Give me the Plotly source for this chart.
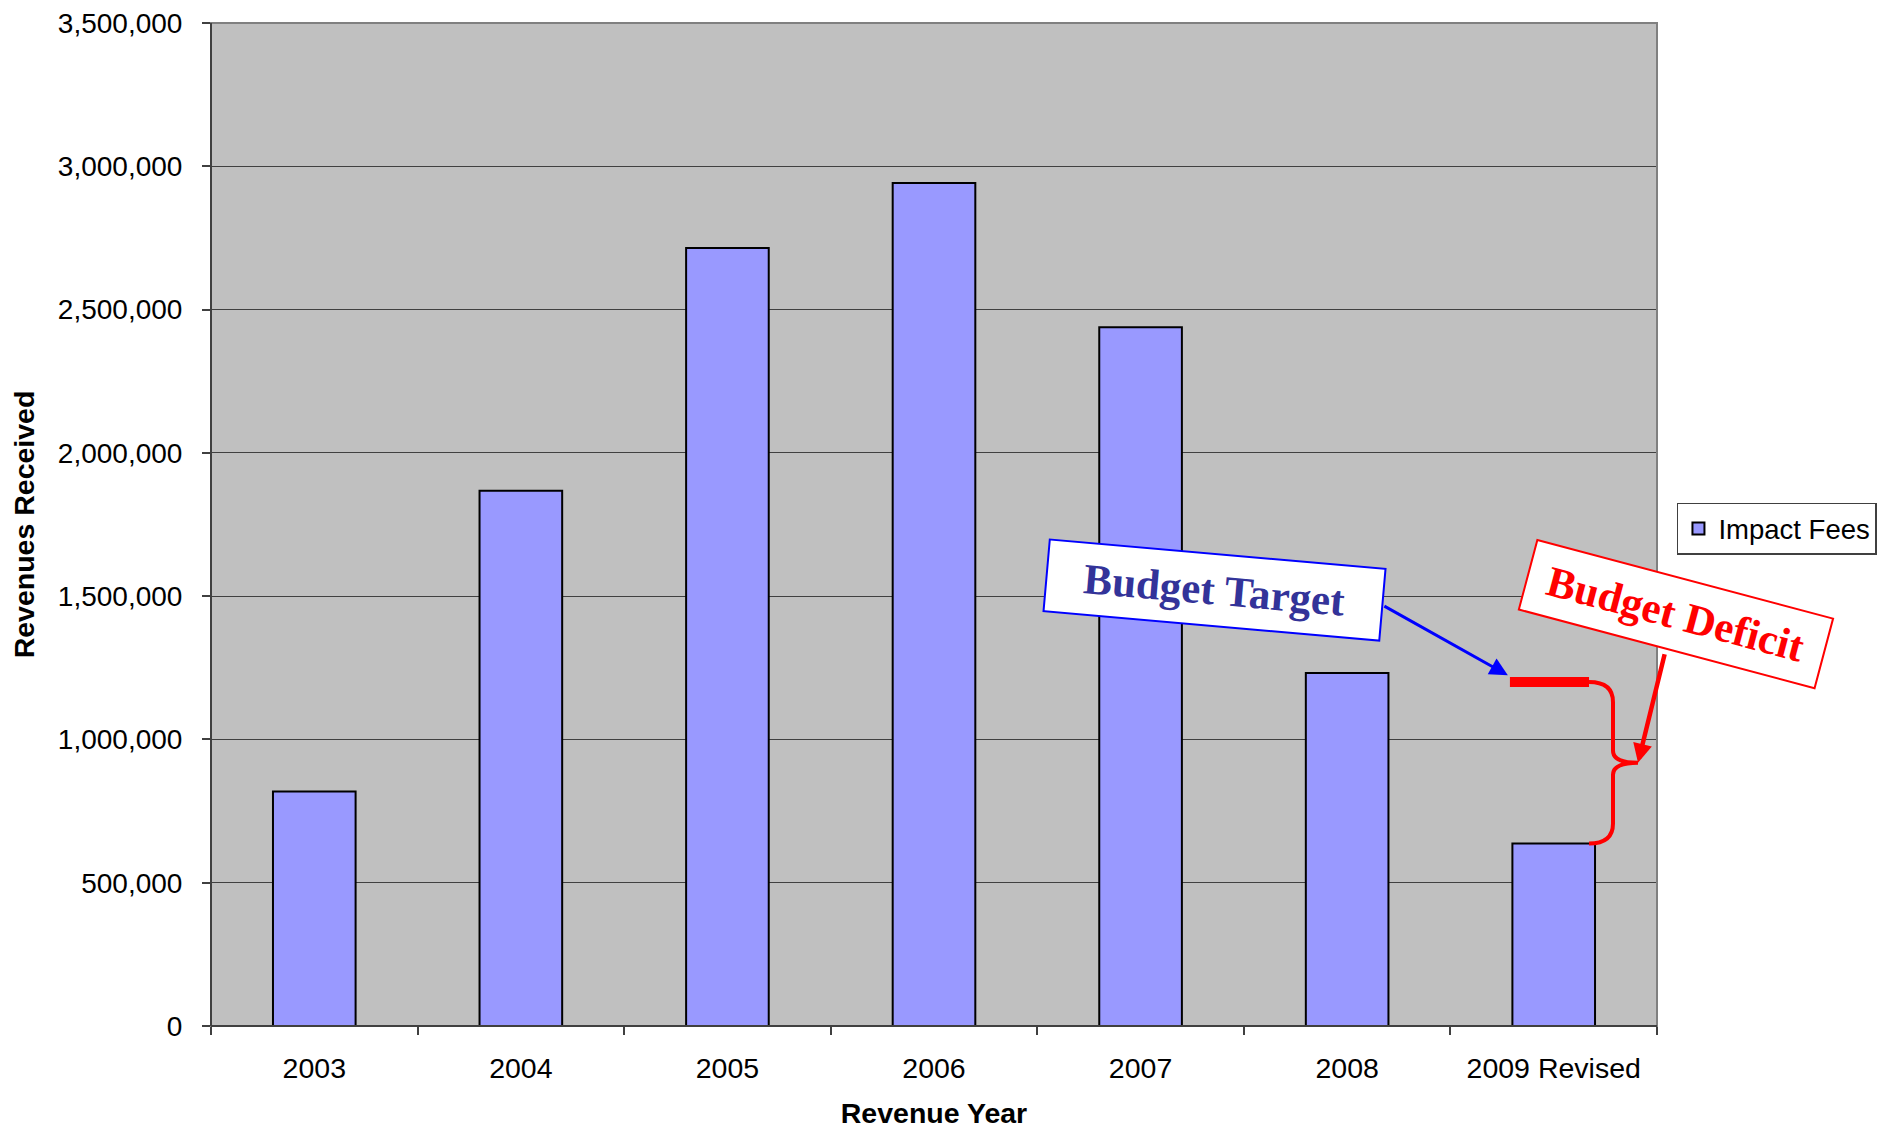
import plotly.graph_objects as go

# ---- data ----
years = ["2003", "2004", "2005", "2006", "2007", "2008", "2009 Revised"]
impact_fees = [818000, 1868000, 2715000, 2942000, 2438000, 1232000, 637000]
budget_target = 1200000
y_ticks = [0, 500000, 1000000, 1500000, 2000000, 2500000, 3000000, 3500000]
y_tick_labels = ["0", "500,000", "1,000,000", "1,500,000", "2,000,000", "2,500,000", "3,000,000", "3,500,000"]

SANS = "Liberation Sans, Arial, sans-serif"
SERIF = "Liberation Serif, Times New Roman, serif"

fig = go.Figure()
fig.add_trace(go.Bar(
    x=years, y=impact_fees, name="Impact Fees",
    marker=dict(color="#9999FF", line=dict(color="#000000", width=2)),
))

n = len(years)
last = n - 1
last_val = impact_fees[last]
mid_val = (budget_target + last_val) / 2


def px(idx):
    return (idx + 0.5) / n


shapes = []
# plot border (top/right gray)
shapes.append(dict(type="rect", xref="paper", yref="paper", x0=0, x1=1, y0=0, y1=1,
                   line=dict(color="#808080", width=2), layer="above"))
# left & bottom axis lines
shapes.append(dict(type="line", xref="paper", yref="paper", x0=0, x1=0, y0=0, y1=1,
                   line=dict(color="#404040", width=2), layer="above"))
shapes.append(dict(type="line", xref="paper", yref="paper", x0=0, x1=1, y0=0, y1=0,
                   line=dict(color="#404040", width=2), layer="above"))
# budget target line
shapes.append(dict(type="line", xref="paper", yref="y",
                   x0=px(last) - 0.212 / n, x1=px(last) + 0.171 / n,
                   y0=budget_target, y1=budget_target,
                   line=dict(color="#FF0000", width=10), layer="above"))
# brace
x0b = px(last) + 0.171 / n
xv = px(last) + 0.287 / n
xt = px(last) + 0.408 / n
r = 70000
path = (f"M{x0b},{budget_target} Q{xv},{budget_target} {xv},{budget_target - r} "
        f"L{xv},{mid_val + r * 0.6} Q{xv},{mid_val} {xt},{mid_val} "
        f"Q{xv},{mid_val} {xv},{mid_val - r * 0.6} "
        f"L{xv},{last_val + r} Q{xv},{last_val} {x0b},{last_val}")
shapes.append(dict(type="path", xref="paper", yref="y", path=path,
                   line=dict(color="#FF0000", width=4), layer="above"))

annotations = [
    # blue arrow to target
    dict(x=px(last) - 0.222 / n, y=budget_target + 24000, xref="paper", yref="y",
         text="", showarrow=True, ax=-125, ay=-70, arrowhead=2, arrowsize=1.2,
         arrowwidth=3, arrowcolor="#0000FF", standoff=0),
    # red arrow to brace
    dict(x=xt, y=mid_val, xref="paper", yref="y",
         text="", showarrow=True, ax=27, ay=-110, arrowhead=2, arrowsize=0.85,
         arrowwidth=4.5, arrowcolor="#FF0000", standoff=0),
    dict(x=0.6938, y=0.4344, xref="paper", yref="paper", xanchor="center", yanchor="middle",
         text="<b>Budget Target</b>", showarrow=False, textangle=5,
         font=dict(family=SERIF, size=43, color="#333399"),
         bgcolor="#FFFFFF", bordercolor="#0000FF", borderwidth=2, borderpad=0,
         width=335, height=70),
    dict(x=1.0129, y=0.4109, xref="paper", yref="paper", xanchor="center", yanchor="middle",
         text="<b>Budget Deficit</b>", showarrow=False, textangle=14.9,
         font=dict(family=SERIF, size=43, color="#FF0000"),
         bgcolor="#FFFFFF", bordercolor="#FF0000", borderwidth=2, borderpad=0,
         width=304, height=70),
]

fig.update_layout(
    width=1884, height=1129,
    margin=dict(l=211, r=227, t=23, b=103, autoexpand=False),
    paper_bgcolor="#FFFFFF", plot_bgcolor="#C0C0C0",
    bargap=0.6,
    font=dict(family=SANS, size=28, color="#000000"),
    showlegend=True,
    legend=dict(x=1.0138, y=0.5218, xanchor="left", yanchor="top",
                bgcolor="#FFFFFF", bordercolor="#404040", borderwidth=1.5,
                font=dict(family=SANS, size=27.5, color="#000000"),
                itemwidth=30, tracegroupgap=0),
    shapes=shapes,
    annotations=annotations,
)
fig.update_xaxes(
    type="category", tickson="boundaries", ticks="outside", ticklen=8,
    tickcolor="#404040", tickwidth=1.5, showgrid=False, showline=False,
    automargin=False,
    tickfont=dict(family=SANS, size=28.5, color="#000000"),
    title=dict(text="<b>Revenue Year</b>", font=dict(family=SANS, size=28.5, color="#000000"), standoff=22),
    ticklabelstandoff=22,
)
fig.update_yaxes(
    range=[0, 3500000], tickvals=y_ticks, ticktext=y_tick_labels,
    ticks="outside", ticklen=8, tickcolor="#404040", tickwidth=1.5,
    showgrid=True, gridcolor="#404040", gridwidth=1, zeroline=False, showline=False,
    automargin=False,
    tickfont=dict(family=SANS, size=28, color="#000000"),
    title=dict(text="<b>Revenues Received</b>", font=dict(family=SANS, size=28.5, color="#000000"), standoff=14),
    ticklabelstandoff=14,
)

fig.write_html("out.html")
